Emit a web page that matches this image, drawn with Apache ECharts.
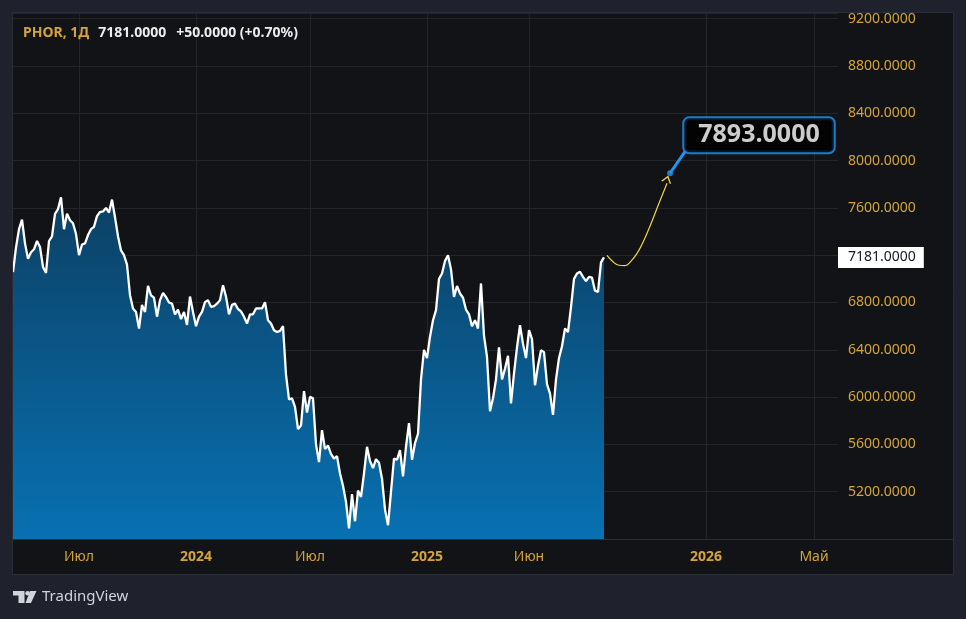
<!DOCTYPE html>
<html><head><meta charset="utf-8">
<script src="https://cdn.jsdelivr.net/npm/echarts@6/dist/echarts.min.js"></script>
<style>html,body{margin:0;padding:0;background:#1f222c;}#c{width:966px;height:619px;}</style>
</head><body><div id="c"></div>
<script>
const symbolName = 'PHOR, 1Д';
const change = 50;
const prices = [
7056,7265,7420,7500,7300,7170,7225,7250,7320,7270,
7100,7050,7320,7360,7550,7590,7690,7420,7550,7496,
7470,7380,7200,7290,7300,7370,7420,7440,7530,7565,
7570,7600,7560,7670,7521,7360,7240,7200,7120,6862,
6750,6720,6580,6780,6720,6940,6860,6840,6680,6820,
6880,6847,6800,6790,6700,6740,6660,6720,6610,6850,
6720,6600,6680,6720,6803,6820,6763,6770,6790,6820,
6946,6850,6700,6780,6790,6745,6725,6680,6622,6700,
6700,6749,6750,6750,6803,6650,6622,6566,6550,6560,
6600,6190,5980,5990,5917,5730,5760,6050,5870,6002,
5990,5600,5450,5720,5560,5590,5520,5480,5500,5354,
5250,5114,4890,5180,4950,5210,5156,5354,5580,5460,
5400,5475,5445,5310,5050,4917,5200,5480,5470,5551,
5330,5580,5780,5470,5610,5690,6150,6400,6330,6510,
6650,6735,7000,7045,7150,7200,7080,6847,6940,6876,
6840,6740,6700,6600,6650,6580,6961,6520,6340,5880,
5990,6150,6420,6150,6240,6350,5946,6200,6420,6608,
6450,6330,6566,6490,6100,6265,6397,6380,6110,6030,
5850,6150,6330,6430,6580,6550,6760,7000,7045,7060,
7017,6980,7017,7010,6900,6890,7140,7181
];
const totalBars = 276;
const tickIdx = [22, 61, 99, 138, 172, 231, 267];
const tickText = ['Июл', '2024', 'Июл', '2025', 'Июн', '2026', 'Май'];
const tickBold = [false, true, false, true, false, true, false];
const yMin = 4800, yMax = 9248, yStep = 400;
const forecastIdx = [198, 200, 202, 204, 206, 208, 210, 212, 214, 216, 218];
const forecastVals = [7198, 7145, 7115, 7112, 7150, 7215, 7310, 7425, 7553, 7682, 7808];
const arrowTip = [218.3, 7840];
const targetIdx = 219;
const targetValue = 7893;
const calloutCorner = [224, 8075];

const gold = '#d4a43b';
const font = 'Noto Sans';
const gridColor = '#22252c';
const blue = '#2196f3';
const yellow = '#f3d63a';
const categories = Array.from({length: totalBars}, (_, i) => String(i));
const last = prices[prices.length - 1];
const pct = change / (last - change) * 100;
const isTick = (i) => tickIdx.indexOf(i) >= 0;

const chart = echarts.init(document.getElementById('c'));
chart.setOption({
  backgroundColor: '#121317',
  animation: false,
  textStyle: {fontFamily: font},
  title: {
    left: 18, top: 19,
    text: '{a|' + symbolName + '}{b|' + last.toFixed(4) + '}{c|+' + change.toFixed(4) + ' (+' + pct.toFixed(2) + '%)}',
    textStyle: {
      rich: {
        a: {color: gold, fontSize: 14, fontFamily: font, lineHeight: 18},
        b: {color: '#ececec', fontSize: 14, fontFamily: font, lineHeight: 18, padding: [0, 0, 0, 9]},
        c: {color: '#ececec', fontSize: 14, fontFamily: font, lineHeight: 18, padding: [0, 0, 0, 10]}
      }
    }
  },
  grid: {left: 13, right: 128, top: 13, bottom: 80},
  xAxis: {
    type: 'category',
    data: categories,
    boundaryGap: false,
    axisLine: {show: true, lineStyle: {color: '#2a2d36', width: 1}},
    axisTick: {show: false},
    axisLabel: {
      interval: (i) => isTick(i),
      margin: 11,
      color: gold,
      fontSize: 14,
      fontFamily: font,
      formatter: (v, i) => {
        const k = tickIdx.indexOf(i);
        if (k < 0) return '';
        return tickBold[k] ? '{b|' + tickText[k] + '}' : tickText[k];
      },
      rich: {b: {fontWeight: 'bold', color: gold, fontSize: 14, fontFamily: font}}
    },
    splitLine: {show: true, interval: (i) => isTick(i), lineStyle: {color: gridColor, width: 1}}
  },
  yAxis: {
    type: 'value',
    position: 'right',
    min: yMin, max: yMax, interval: yStep,
    axisLine: {show: false},
    axisTick: {show: false},
    axisLabel: {
      color: gold, fontSize: 14, fontFamily: font, margin: 10,
      formatter: (v) => (v > yMin && v % yStep === 0) ? v.toFixed(4) : ''
    },
    splitLine: {show: true, lineStyle: {color: gridColor, width: 1}}
  },
  series: [
    {
      type: 'line',
      data: prices,
      symbol: 'none',
      smooth: false,
      lineStyle: {color: '#ffffff', width: 2.3},
      areaStyle: {
        opacity: 1,
        color: new echarts.graphic.LinearGradient(0, 0, 0, 1, [
          {offset: 0, color: '#0c4064'},
          {offset: 1, color: '#0871b2'}
        ])
      },
      z: 3,
      markLine: {
        silent: true,
        symbol: 'none',
        lineStyle: {color: 'rgba(0,0,0,0)', width: 0},
        label: {
          show: true, position: 'end', distance: 0,
          formatter: () => last.toFixed(4),
          backgroundColor: '#ffffff', color: '#131722',
          fontSize: 14, fontFamily: font, lineHeight: 15,
          padding: [3, 8, 3, 10]
        },
        data: [{yAxis: last}]
      }
    },
    {
      type: 'line',
      data: forecastIdx.map((ix, k) => [ix, forecastVals[k]]),
      smooth: 0.5,
      symbol: 'none',
      lineStyle: {color: yellow, width: 1.2},
      z: 4
    },
    {
      type: 'scatter',
      data: [arrowTip],
      symbol: 'path://M0,8 L6,0 L12,8',
      symbolSize: [9, 6],
      symbolRotate: -17,
      itemStyle: {color: 'rgba(0,0,0,0)', borderColor: yellow, borderWidth: 1.2, opacity: 1},
      z: 4
    },
    {
      type: 'scatter',
      data: [[targetIdx, targetValue]],
      symbol: 'circle',
      symbolSize: 6,
      itemStyle: {color: blue},
      z: 6,
      label: {
        show: true,
        position: 'inside',
        formatter: () => targetValue.toFixed(4),
        color: '#ffffff',
        fontSize: 25,
        fontWeight: 'bold',
        fontFamily: 'Open Sans',
        lineHeight: 28,
        backgroundColor: '#000000',
        borderColor: blue,
        borderWidth: 2,
        borderRadius: 5,
        padding: [3, 14]
      },
      labelLayout: {dx: 89, dy: -38},
      markLine: {
        silent: true,
        symbol: 'none',
        label: {show: false},
        lineStyle: {color: blue, width: 3, type: 'solid'},
        data: [[{coord: [targetIdx, targetValue]}, {coord: calloutCorner}]]
      }
    }
  ],
  graphic: [
    {type: 'rect', shape: {x: 0, y: 0, width: 966, height: 12}, style: {fill: '#1f222c'}, z: 100, silent: true},
    {type: 'rect', shape: {x: 0, y: 0, width: 12, height: 619}, style: {fill: '#1f222c'}, z: 100, silent: true},
    {type: 'rect', shape: {x: 954, y: 0, width: 12, height: 619}, style: {fill: '#1f222c'}, z: 100, silent: true},
    {type: 'rect', shape: {x: 0, y: 575, width: 966, height: 44}, style: {fill: '#1f222c'}, z: 100, silent: true},
    {type: 'rect', shape: {x: 12.5, y: 12.5, width: 941, height: 562}, style: {fill: 'none', stroke: '#2b2e38', lineWidth: 1}, z: 100, silent: true},
    {type: 'line', shape: {x1: 838, y1: 539.5, x2: 954, y2: 539.5}, style: {stroke: '#2a2d36', lineWidth: 1}, z: 100, silent: true},
    {type: 'polygon', shape: {points: [[13, 591], [24.5, 591], [24.5, 603], [18.5, 603], [18.5, 595.5], [13, 595.5]]}, style: {fill: '#d1d4dc'}, z: 101, silent: true},
    {type: 'circle', shape: {cx: 27.6, cy: 593.2, r: 2.3}, style: {fill: '#d1d4dc'}, z: 101, silent: true},
    {type: 'polygon', shape: {points: [[30, 591], [36.5, 591], [31, 603], [25.5, 603]]}, style: {fill: '#d1d4dc'}, z: 101, silent: true},
    {type: 'text', x: 42, y: 597, style: {text: 'TradingView', fill: '#d1d4dc', font: '15px "Noto Sans"', textVerticalAlign: 'middle'}, z: 101, silent: true}
  ]
});
</script>
</body></html>
